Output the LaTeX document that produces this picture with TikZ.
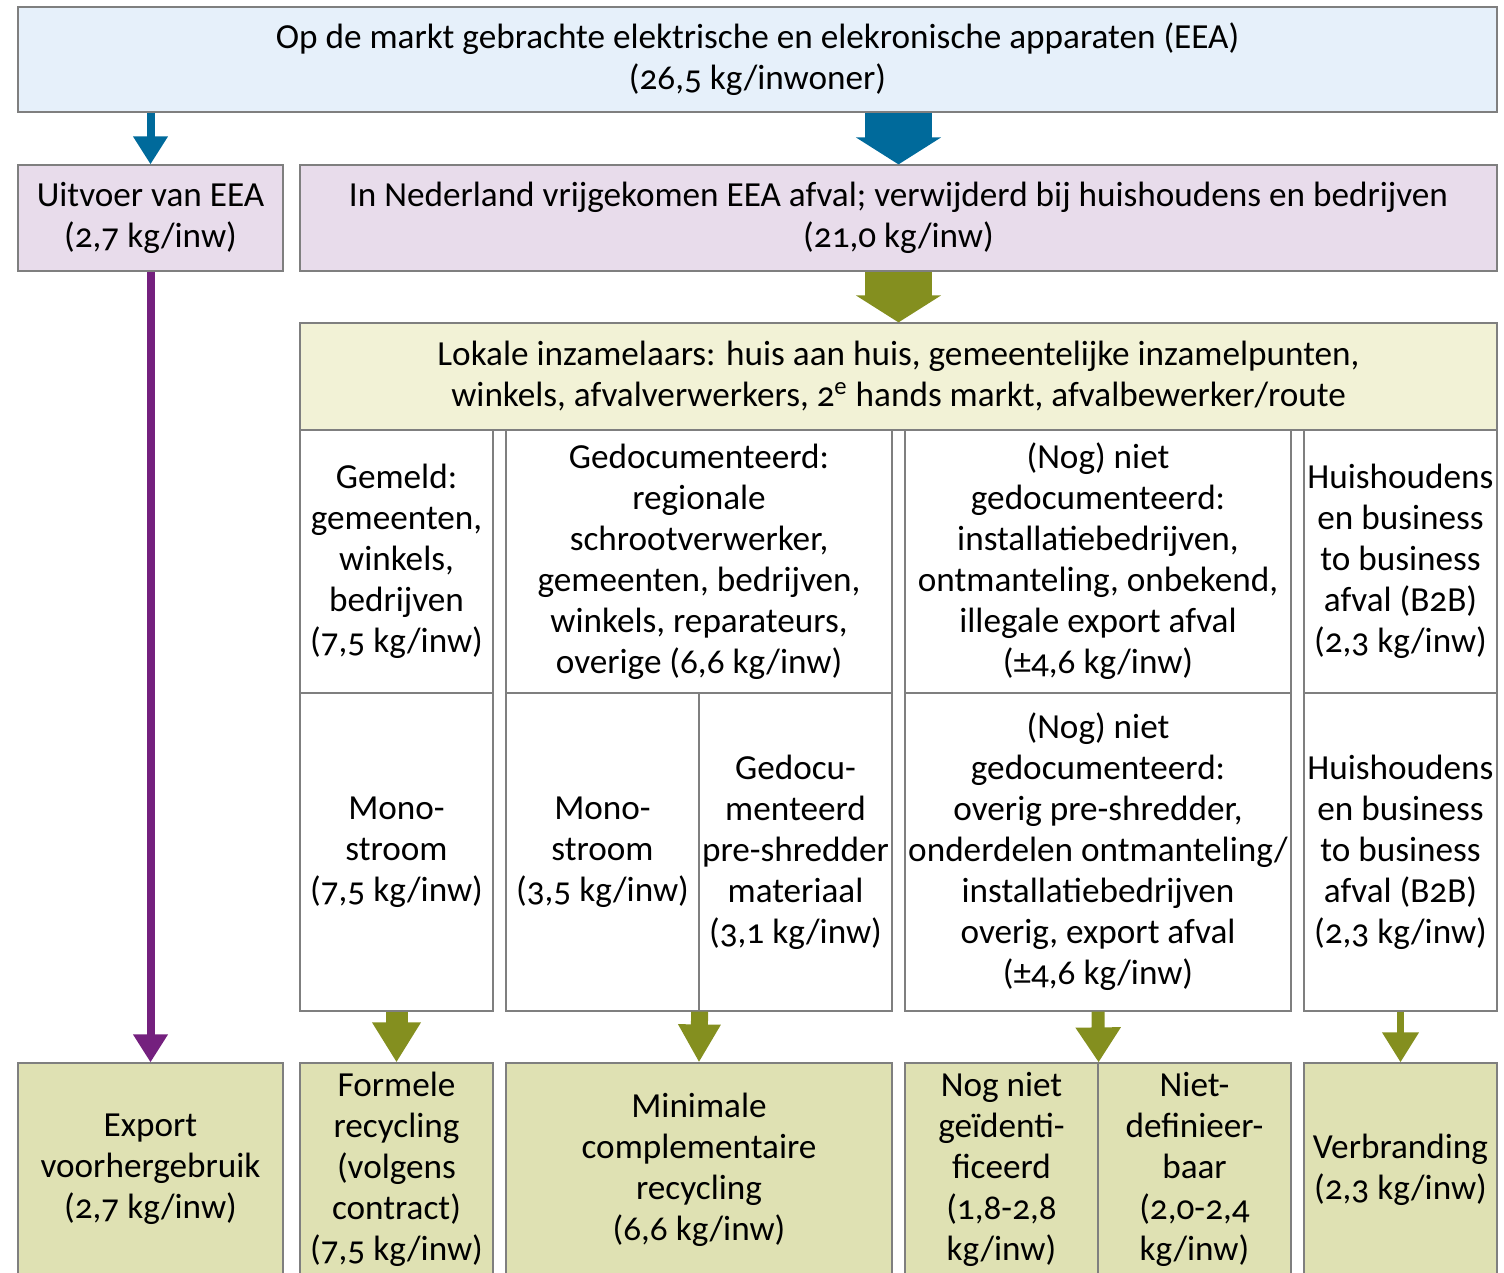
\documentclass[tikz,border=0pt]{standalone}
\usepackage{fontspec}
\setmainfont{Carlito}[Numbers=OldStyle]
\usepackage{tikz}
\usetikzlibrary{arrows.meta}
\definecolor{topfill}{HTML}{E6F0FA}
\definecolor{pinkfill}{HTML}{E8DCEB}
\definecolor{lokfill}{HTML}{F2F2D6}
\definecolor{endfill}{HTML}{DFE1B3}
\definecolor{boxline}{HTML}{7F7F7F}
\definecolor{flowblue}{HTML}{006A9B}
\definecolor{flowgreen}{HTML}{848F1F}
\definecolor{flowpurple}{HTML}{74207E}

\begin{document}
\begin{tikzpicture}[x=0.5pt,y=-0.5pt,
  every node/.style={draw=boxline,line width=0.6pt,inner sep=0pt,align=center,font=\fontsize{17.6}{20.5}\selectfont},
  topbox/.style={fill=topfill},
  pinkbox/.style={fill=pinkfill},
  lokbox/.style={fill=lokfill},
  cellbox/.style={fill=white},
  endbox/.style={fill=endfill},
  thin/.style={line width=4pt,-{Triangle[width=16.5pt,length=14pt]}},
  fat/.style={line width=33.5pt,-{Triangle[width=42pt,length=13.5pt]}}]
\useasboundingbox (0,0) rectangle (1504,1273);
% bovenste rij
\node[topbox,minimum width=739.5pt,minimum height=52.5pt] (eea) at (757.5,59.5) {Op de markt gebrachte elektrische en elekronische apparaten (EEA)\\(26,5 kg/inwoner)};
\node[pinkbox,minimum width=132.5pt,minimum height=53pt] (uitvoer) at (150.5,218) {Uitvoer van EEA\\(2,7 kg/inw)};
\node[pinkbox,minimum width=598.5pt,minimum height=53pt] (nl) at (898.5,218) {In Nederland vrijgekomen EEA afval; verwijderd bij huishoudens en bedrijven\\(21,0 kg/inw)};
\node[lokbox,minimum width=598.5pt,minimum height=53.5pt] (lokaal) at (898.5,376.5) {Lokale inzamelaars: huis aan huis, gemeentelijke inzamelpunten,\\winkels, afvalverwerkers, 2\textsuperscript{e} hands markt, afvalbewerker/route};
% eerste rij kolommen
\node[cellbox,minimum width=96.5pt,minimum height=131.5pt] (gemeld) at (396.5,561.5) {Gemeld:\\gemeenten,\\winkels,\\bedrijven\\(7,5 kg/inw)};
\node[cellbox,minimum width=193pt,minimum height=131.5pt] (gedoc) at (699,561.5) {Gedocumenteerd:\\regionale\\schrootverwerker,\\gemeenten, bedrijven,\\winkels, reparateurs,\\overige (6,6 kg/inw)};
\node[cellbox,minimum width=193pt,minimum height=131.5pt] (nietgedoc) at (1098,561.5) {(Nog) niet\\gedocumenteerd:\\installatiebedrijven,\\ontmanteling, onbekend,\\illegale export afval\\(±4,6 kg/inw)};
\node[cellbox,minimum width=96.5pt,minimum height=131.5pt] (bb) at (1400.5,561.5) {Huishoudens\\en business\\to business\\afval (B2B)\\(2,3 kg/inw)};
% tweede rij kolommen
\node[cellbox,minimum width=96.5pt,minimum height=159pt] (mono) at (396.5,852) {Mono-\\stroom\\(7,5 kg/inw)};
\node[cellbox,minimum width=96.5pt,minimum height=159pt] (monob) at (602.5,852) {Mono-\\stroom\\(3,5 kg/inw)};
\node[cellbox,minimum width=96.5pt,minimum height=159pt] (shred) at (795.5,852) {Gedocu-\\menteerd\\pre-shredder\\materiaal\\(3,1 kg/inw)};
\node[cellbox,minimum width=193pt,minimum height=159pt] (overig) at (1098,852) {(Nog) niet\\gedocumenteerd:\\overig pre-shredder,\\onderdelen ontmanteling/\\installatiebedrijven\\overig, export afval\\(±4,6 kg/inw)};
\node[cellbox,minimum width=96.5pt,minimum height=159pt] (bbb) at (1400.5,852) {Huishoudens\\en business\\to business\\afval (B2B)\\(2,3 kg/inw)};
% eindbestemmingen
\node[endbox,minimum width=132.5pt,minimum height=106.5pt] (export) at (150.5,1169.5) {Export\\voorhergebruik\\(2,7 kg/inw)};
\node[endbox,minimum width=96.5pt,minimum height=106.5pt] (formeel) at (396.5,1169.5) {Formele\\recycling\\(volgens\\contract)\\(7,5 kg/inw)};
\node[endbox,minimum width=193pt,minimum height=106.5pt] (minimaal) at (699,1169.5) {Minimale\\complementaire\\recycling\\(6,6 kg/inw)};
\node[endbox,minimum width=96.5pt,minimum height=106.5pt] (nogniet) at (1001.5,1169.5) {Nog niet\\geïdenti-\\ficeerd\\(1,8-2,8\\kg/inw)};
\node[endbox,minimum width=96.5pt,minimum height=106.5pt] (nietdef) at (1194.5,1169.5) {Niet-\\definieer-\\baar\\(2,0-2,4\\kg/inw)};
\node[endbox,minimum width=96.5pt,minimum height=106.5pt] (verbr) at (1400.5,1169.5) {Verbranding\\(2,3 kg/inw)};
% pijlen
\draw[thin,flowblue] (eea.south -| uitvoer) -- (uitvoer.north);
\draw[fat,flowblue] (eea.south -| nl) -- (nl.north);
\draw[thin,flowpurple] (uitvoer.south) -- (export.north);
\draw[fat,flowgreen] (nl.south) -- (lokaal.north);
\draw[flowgreen,line width=11pt,-{Triangle[width=23pt,length=20pt]}] (mono.south) -- (formeel.north);
\draw[flowgreen,line width=8.5pt,-{Triangle[width=20pt,length=19pt]}] (monob.south east) -- (minimaal.north);
\draw[flowgreen,line width=6.5pt,-{Triangle[width=21.5pt,length=17.5pt]}] (overig.south) -- (nogniet.north east);
\draw[flowgreen,line width=3.5pt,-{Triangle[width=17.5pt,length=15pt]}] (bbb.south) -- (verbr.north);
\end{tikzpicture}
\end{document}
